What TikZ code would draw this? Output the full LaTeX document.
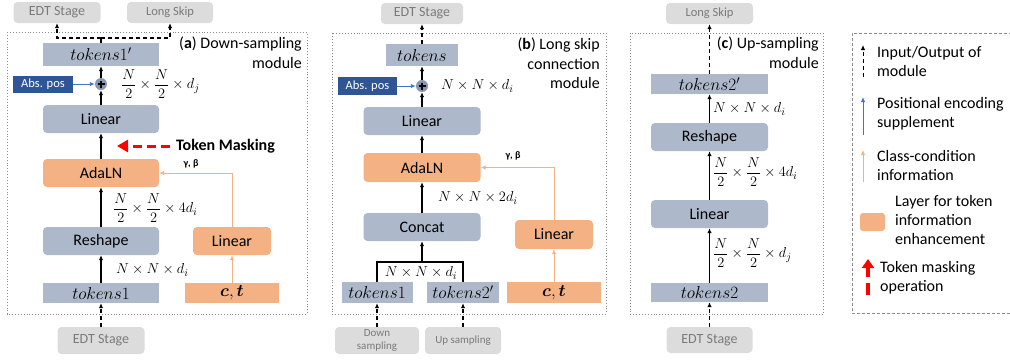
\documentclass[tikz,border=0pt]{standalone}
\usepackage[no-math]{fontspec}
\setmainfont{Carlito}
\usepackage{amsmath,bm}
\usetikzlibrary{arrows.meta}

\definecolor{bgray}{HTML}{ADB9CA}
\definecolor{lorange}{HTML}{F4B183}
\definecolor{lorangeline}{HTML}{F4B183}
\definecolor{absblue}{HTML}{2F5597}
\definecolor{posblue}{HTML}{4472C4}
\definecolor{stagegray}{HTML}{DCDCDC}
\definecolor{stagetext}{HTML}{7A7A7A}
\definecolor{plusfill}{HTML}{8497B0}
\definecolor{framegray}{HTML}{8C8C8C}

\begin{document}
\begin{tikzpicture}[x=1pt,y=-1pt,
  base/.style={inner sep=0pt, font=\fontsize{16}{19}\selectfont},
  gbox/.style={base, rounded corners=4pt, fill=bgray, minimum width=116pt, minimum height=28pt},
  obox/.style={base, rounded corners=4pt, fill=lorange, minimum height=28pt},
  tokbox/.style={base, font=\fontsize{17}{19}\selectfont, fill=bgray, minimum width=116pt, minimum height=21pt},
  condbox/.style={tokbox, fill=lorange, minimum width=94pt, minimum height=20pt},
  stage/.style={inner sep=0pt, rounded corners=4pt, fill=stagegray, text=stagetext,
    minimum height=21pt, font=\fontsize{14}{16}\selectfont},
  skipstage/.style={stage, font=\fontsize{12.5}{14}\selectfont},
  srcstage/.style={stage, align=center, font=\fontsize{11}{13}\selectfont},
  abspos/.style={inner sep=0pt, fill=absblue, text=white, minimum width=60pt,
    minimum height=17pt, font=\fontsize{12.5}{14}\selectfont},
  plus/.style={circle, fill=plusfill, minimum size=12pt, inner sep=0pt,
    path picture={\draw[line width=1.1pt]
      ([xshift=-3.5pt]path picture bounding box.center) -- ([xshift=3.5pt]path picture bounding box.center)
      ([yshift=-3.5pt]path picture bounding box.center) -- ([yshift=3.5pt]path picture bounding box.center);}},
  dimlabel/.style={inner sep=0pt, anchor=west, font=\fontsize{15}{17}\selectfont},
  gblabel/.style={inner sep=0pt, font=\bfseries\fontsize{10}{11}\selectfont},
  flow/.style={line width=1.2pt, -{Latex[length=5pt,width=4.5pt]}},
  io/.style={flow, dash pattern=on 4pt off 3pt},
  ioline/.style={line width=1.2pt, dash pattern=on 4pt off 3pt},
  posarrow/.style={line width=1pt, draw=posblue, -{Latex[length=5pt,width=4.5pt]}},
  condarrow/.style={line width=1pt, draw=lorangeline, -{Latex[length=5pt,width=4.5pt]}},
  maskarrow/.style={draw=red, line width=3pt, dash pattern=on 9pt off 5pt,
    -{Triangle[length=11pt,width=12pt]}},
  modframe/.style={draw=framegray, dotted, line width=0.9pt},
  modtitle/.style={inner sep=0pt, anchor=north east, align=right, font=\fontsize{16}{19.5}\selectfont},
  legtext/.style={inner sep=0pt, anchor=west, align=left, font=\fontsize{16}{19}\selectfont},
]
\useasboundingbox (0,0) rectangle (1010,360);

% ---------------- (a) down-sampling module ----------------
\draw[modframe] (7,32) rectangle (307,314);
\node[modtitle] (atitle) at (302,37) {(\textbf{a}) Down-sampling\\module};
\node[stage, minimum width=87pt] (aout) at (57,12.5) {EDT Stage};
\node[skipstage, minimum width=86pt] (askip) at (170,12.5) {Long Skip};
\node[tokbox, minimum height=23pt] (atokout) at (101,54.5) {$tokens1'$};
\node[abspos] (aabs) at (43,84) {Abs. pos};
\node[plus] (aplus) at (101,84) {};
\node[dimlabel] (adimj) at (121,84) {$\dfrac{N}{2}\times\dfrac{N}{2}\times d_j$};
\node[gbox] (alin) at (101,119) {Linear};
\node[inner sep=0pt, anchor=west, font=\bfseries\fontsize{16}{19}\selectfont] (amask) at (176,146) {Token Masking};
\coordinate (amasktip) at (117,146);
\node[obox, minimum width=116pt] (aada) at (101,173) {AdaLN};
\node[gblabel] (agb) at (191,164) {γ, β};
\node[dimlabel] (adim4) at (113,208) {$\dfrac{N}{2}\times\dfrac{N}{2}\times 4d_i$};
\node[gbox] (aresh) at (101,241) {Reshape};
\node[obox, minimum width=78pt] (alinc) at (232,241) {Linear};
\node[dimlabel] (adimi) at (116,270) {$N\times N\times d_i$};
\node[tokbox, minimum height=20pt] (atokin) at (101,293) {$tokens1$};
\node[condbox] (act) at (232,293) {$\bm{c},\bm{t}$};
\node[stage, minimum width=87pt, minimum height=27pt] (ain) at (101,340.5) {EDT Stage};

\draw[io] (ain) -- (atokin);
\draw[flow] (atokin) -- (aresh);
\draw[flow] (aresh) -- (aada);
\draw[flow] (aada) -- (alin);
\draw[flow] (alin) -- (aplus);
\draw[flow] (aplus) -- (atokout);
\draw[posarrow] (aabs) -- (aplus);
\draw[condarrow] (act) -- (alinc);
\draw[condarrow] (alinc.north) |- (aada.east);
\draw[maskarrow] ([xshift=-6pt]amask.west) -- (amasktip);
\coordinate (asplit) at (101,38);
\draw[ioline] (atokout.north) -- (asplit);
\draw[io] (asplit) -| (aout.south);
\draw[io] (asplit) -| (askip.south);

% ---------------- (b) long skip connection module ----------------
\draw[modframe] (332,33) rectangle (606,314);
\node[modtitle] (btitle) at (600,38) {(\textbf{b}) Long skip\\connection\\module};
\node[stage, minimum width=82pt] (bout) at (422,13.5) {EDT Stage};
\node[tokbox, minimum width=72pt, minimum height=22pt] (btok) at (422,55) {$tokens$};
\node[abspos, minimum width=59pt, minimum height=18pt] (babs) at (367.5,86) {Abs. pos};
\node[plus] (bplus) at (422,86) {};
\node[dimlabel] (bdimi) at (441,86) {$N\times N\times d_i$};
\node[gbox, minimum width=117pt] (blin) at (422,121) {Linear};
\node[obox, minimum width=117pt, minimum height=29pt] (bada) at (422,167.5) {AdaLN};
\node[gblabel] (bgb) at (513,156) {γ, β};
\node[dimlabel] (bdim2) at (438,198) {$N\times N\times 2d_i$};
\node[gbox, minimum width=117pt] (bcat) at (422,227) {Concat};
\node[obox, minimum width=78pt, minimum height=29pt] (blinc) at (554,234.5) {Linear};
\node[dimlabel, anchor=center] (bdimm) at (421,273) {$N\times N\times d_i$};
\node[tokbox, minimum width=71pt] (btok1) at (377,292.5) {$tokens1$};
\node[tokbox, minimum width=72pt] (btok2) at (463,292.5) {$tokens2'$};
\node[condbox, minimum height=21pt] (bct) at (554,292.5) {$\bm{c},\bm{t}$};
\node[srcstage, minimum width=84pt, minimum height=27pt] (bdown) at (377,340.5) {Down\\sampling};
\node[srcstage, minimum width=76pt, minimum height=27pt] (bup) at (463,340.5) {Up sampling};

\coordinate (bjoin1) at (377,262);
\coordinate (bjoin2) at (463,262);
\coordinate (bjoin) at (422,262);
\draw[line width=1.2pt] (btok1.north) -- (bjoin1) -- (bjoin2) -- (btok2.north);
\draw[flow] (bjoin) -- (bcat);
\draw[flow] (bcat) -- (bada);
\draw[flow] (bada) -- (blin);
\draw[flow] (blin) -- (bplus);
\draw[flow] (bplus) -- (btok);
\draw[io] (btok) -- (bout);
\draw[posarrow] (babs) -- (bplus);
\draw[condarrow] (bct) -- (blinc);
\draw[condarrow] (blinc.north) |- (bada.east);
\draw[io] (bdown) -- (btok1);
\draw[io] (bup) -- (btok2);

% ---------------- (c) up-sampling module ----------------
\draw[modframe] (630,33) rectangle (823,314);
\node[modtitle] (ctitle) at (819,37) {(\textbf{c}) Up-sampling\\module};
\node[skipstage, minimum width=87pt] (cout) at (709.5,13.5) {Long Skip};
\node[tokbox, minimum width=117pt, minimum height=20pt] (ctokout) at (709.5,84) {$tokens2'$};
\node[dimlabel] (cdimi) at (713,109) {$N\times N\times d_i$};
\node[gbox, minimum width=117pt] (cresh) at (709.5,137) {Reshape};
\node[dimlabel] (cdim4) at (713,172) {$\dfrac{N}{2}\times\dfrac{N}{2}\times 4d_i$};
\node[gbox, minimum width=117pt] (clin) at (709.5,214) {Linear};
\node[dimlabel] (cdimj) at (713,253) {$\dfrac{N}{2}\times\dfrac{N}{2}\times d_j$};
\node[tokbox, minimum width=117pt, minimum height=19pt] (ctokin) at (709.5,292.5) {$tokens2$};
\node[stage, minimum width=86pt, minimum height=26pt] (cin) at (709.5,340) {EDT Stage};

\draw[io] (cin) -- (ctokin);
\draw[flow] (ctokin) -- (clin);
\draw[flow] (clin) -- (cresh);
\draw[flow] (cresh) -- (ctokout);
\draw[io] (ctokout) -- (cout);

% ---------------- legend ----------------
\draw[draw=framegray, dash pattern=on 3pt off 2pt, line width=0.9pt]
  (1012,33) -- (852,33) -- (852,313) -- (1012,313);
\coordinate (lio1) at (863,77);  \coordinate (lio2) at (863,45);
\coordinate (lpos1) at (863,135); \coordinate (lpos2) at (863,97);
\coordinate (lcond1) at (863,182); \coordinate (lcond2) at (863,150);
\coordinate (lmask1) at (868,295); \coordinate (lmask2) at (868,259);
\draw[io, line width=1pt] (lio1) -- (lio2);
\draw[posarrow] (lpos1) -- (lpos2);
\draw[condarrow] (lcond1) -- (lcond2);
\node[obox, minimum width=25pt, minimum height=18pt, rounded corners=3pt] (lbox) at (872.5,222) {};
\draw[draw=red, line width=4pt, dash pattern=on 12pt off 6pt,
  -{Triangle[length=9pt,width=12pt]}] (lmask1) -- (lmask2);
\node[legtext] (lt1) at (877,61.5) {Input/Output of\\module};
\node[legtext] (lt2) at (877,114) {Positional encoding\\supplement};
\node[legtext] (lt3) at (877,165.5) {Class-condition\\information};
\node[legtext] (lt4) at (895,219.5) {Layer for token\\information\\enhancement};
\node[legtext] (lt5) at (880,277.5) {Token masking\\operation};
\end{tikzpicture}
\end{document}
